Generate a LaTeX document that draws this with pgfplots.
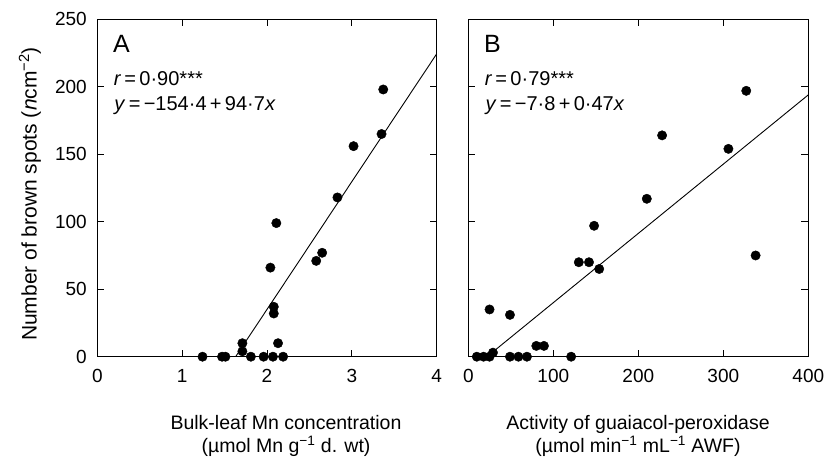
\documentclass[border=0pt]{standalone}
\usepackage{fontspec}
\setmainfont{Liberation Sans}
\usepackage{pgfplots}
\pgfplotsset{compat=1.18}
\begin{document}
\begin{tikzpicture}
\useasboundingbox (0,0) rectangle (826pt,457pt);
\pgfplotsset{
  panel/.style={
    scale only axis, height=337.4pt,
    ymin=0, ymax=250, ytick={0,50,...,250},
    tick align=inside, major tick length=7pt,
    axis line style={line width=0.9pt}, tick style={line width=0.9pt, black},
    /pgf/number format/assume math mode=true,
    tick label style={font=\fontsize{19}{22}\selectfont},
    xticklabel style={yshift=-9pt},
    yticklabel style={xshift=-7pt},
    clip=false,
  },
  dots/.style={only marks, mark=*, mark size=4.7pt, mark options={fill=black, draw=black}},
  fit/.style={black, line width=0.9pt, no marks},
}
% Panel A
\begin{axis}[panel, at={(97.3pt,100.3pt)}, anchor=south west, width=339.4pt,
  xmin=0, xmax=4, xtick={0,1,2,3,4}]
\addplot[fit] coordinates {(1.63,0) (4,224.4)};
\addplot[dots] coordinates {
(3.37,198) (3.35,165) (3.02,156) (2.83,118) (2.11,99) (2.65,77) (2.58,71)
(2.04,66) (2.08,37) (2.08,32) (2.13,10) (1.71,10) (1.71,4)
(1.24,0) (1.47,0) (1.51,0) (1.81,0) (1.96,0) (2.07,0) (2.19,0)};
\node[anchor=base west, inner sep=0pt, font=\fontsize{25}{28}\selectfont] at (rel axis cs:0.046,0.902) {A};
\node[anchor=base west, inner sep=0pt, font=\fontsize{20}{23}\selectfont] at (rel axis cs:0.048,0.805) {\textit{r}\,=\,0·90***};
\node[anchor=base west, inner sep=0pt, font=\fontsize{20}{23}\selectfont] at (rel axis cs:0.050,0.731) {\textit{y}\,=\,−154·4\,+\,94·7\textit{x}};
\end{axis}
% Panel B
\begin{axis}[panel, at={(468.3pt,100.3pt)}, anchor=south west, width=340pt,
  xmin=0, xmax=400, xtick={0,100,200,300,400}, yticklabels={}]
\addplot[fit] coordinates {(22,0) (400,194)};
\addplot[dots] coordinates {
(327,197) (228,164) (306,154) (210,117) (148,97) (130,70) (142,70) (154,65)
(338,75) (25,35) (49,31) (80,8) (89,8) (29,3)
(10,0) (18,0) (25,0) (49,0) (59,0) (69,0) (121,0)};
\node[anchor=base west, inner sep=0pt, font=\fontsize{25}{28}\selectfont] at (rel axis cs:0.046,0.902) {B};
\node[anchor=base west, inner sep=0pt, font=\fontsize{20}{23}\selectfont] at (rel axis cs:0.048,0.805) {\textit{r}\,=\,0·79***};
\node[anchor=base west, inner sep=0pt, font=\fontsize{20}{23}\selectfont] at (rel axis cs:0.050,0.731) {\textit{y}\,=\,−7·8\,+\,0·47\textit{x}};
\end{axis}
% Axis titles
\node[rotate=90, font=\fontsize{21}{24}\selectfont] at (30pt,263pt) {Number of brown spots (\textit{n}cm\textsuperscript{−2})};
\node[anchor=base, font=\fontsize{19.5}{22}\selectfont, inner sep=0pt] at (286pt,27pt) {Bulk-leaf Mn concentration};
\node[anchor=base, font=\fontsize{19.5}{22}\selectfont, inner sep=0pt] at (286pt,4pt) {(µmol Mn g\textsuperscript{−1} d. wt)};
\node[anchor=base, font=\fontsize{19.5}{22}\selectfont, inner sep=0pt] at (638pt,27pt) {Activity of guaiacol-peroxidase};
\node[anchor=base, font=\fontsize{19.5}{22}\selectfont, inner sep=0pt] at (638pt,4pt) {(µmol min\textsuperscript{−1} mL\textsuperscript{−1} AWF)};
\end{tikzpicture}
\end{document}
